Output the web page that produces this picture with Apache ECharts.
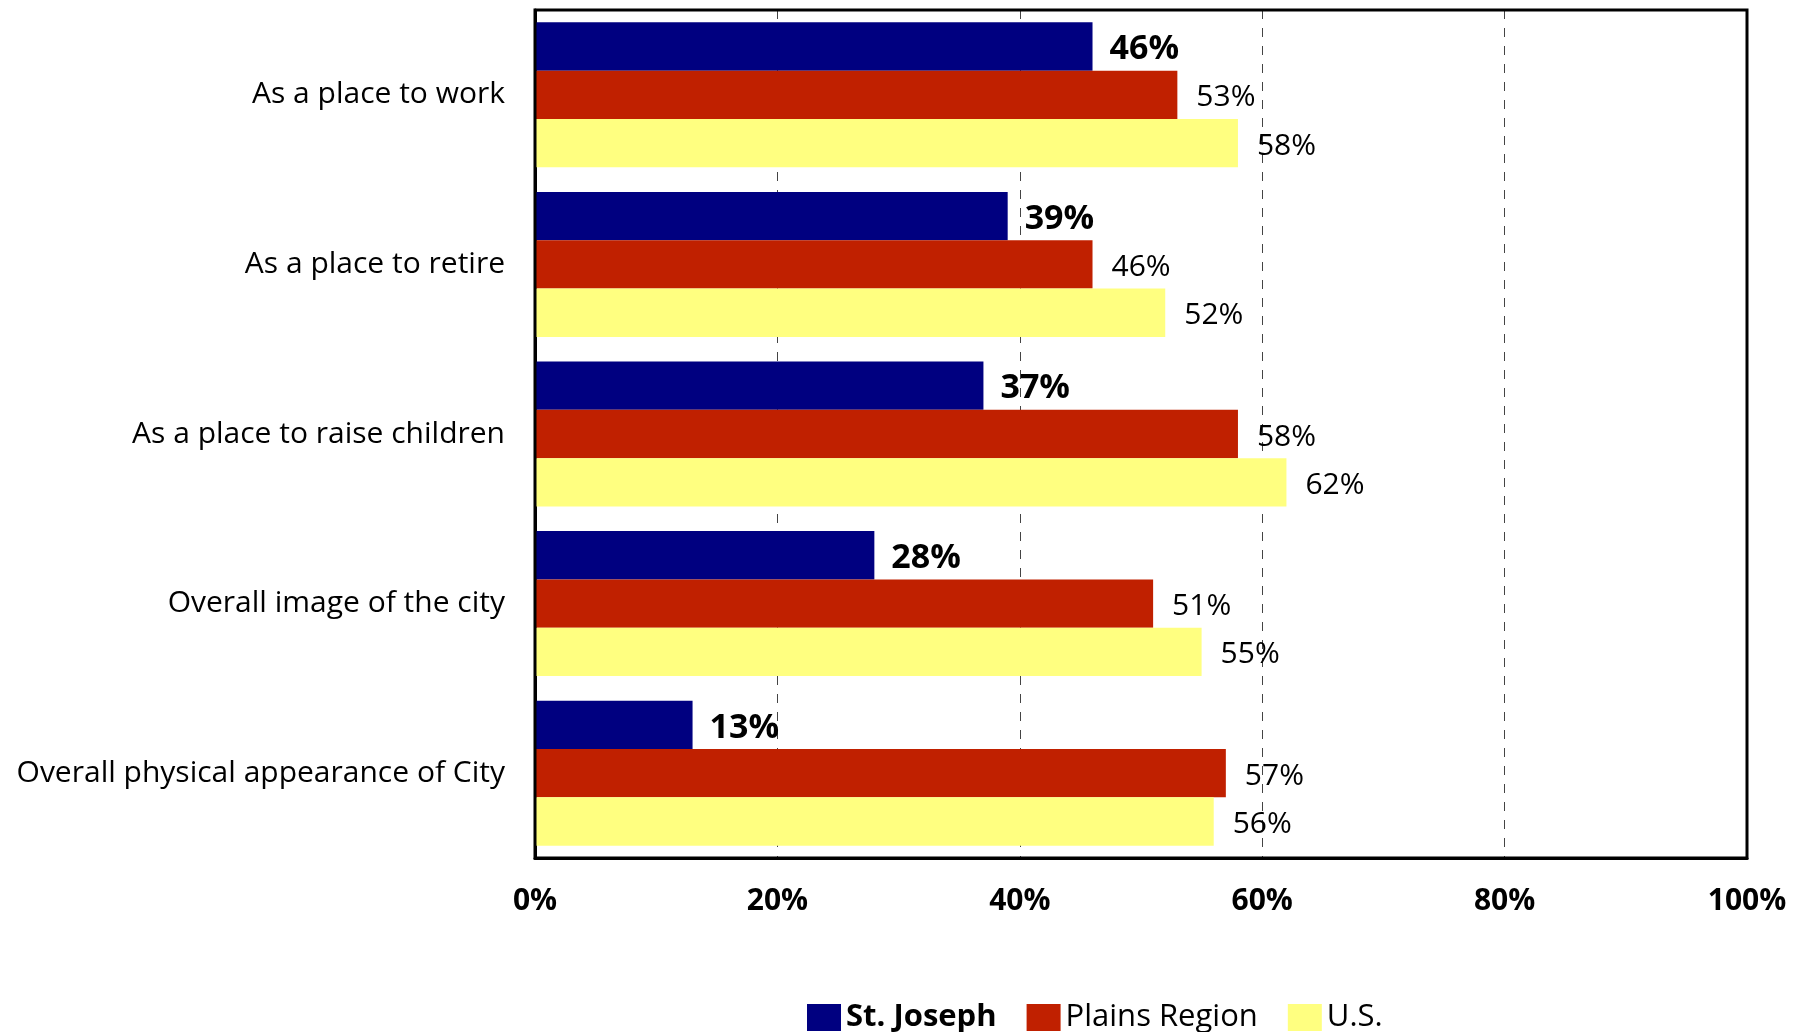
<!DOCTYPE html>
<html>
<head>
<meta charset="utf-8">
<script src="https://cdn.jsdelivr.net/npm/echarts@6/dist/echarts.min.js"></script>
<style>
  html, body { margin: 0; padding: 0; background: #fff; }
  #chart { width: 1805px; height: 1032px; }
</style>
</head>
<body>
<div id="chart"></div>
<script>
// Ratings of the community, share of respondents (%)
const categories = [
  'As a place to work',
  'As a place to retire',
  'As a place to raise children',
  'Overall image of the city',
  'Overall physical appearance of City'
];
const stJoseph = [46, 39, 37, 28, 13];
const plainsRegion = [53, 46, 58, 51, 57];
const us = [58, 52, 62, 55, 56];
const seriesNames = ['St. Joseph', 'Plains Region', 'U.S.'];
const xTicks = [0, 20, 40, 60, 80, 100];

const FONT = '"Open Sans", sans-serif';

function barSeries(name, values, color, bold) {
  return {
    name: name,
    type: 'bar',
    data: values,
    barGap: '0%',
    barCategoryGap: '14.5%',
    itemStyle: { color: color },
    label: {
      show: true,
      position: 'right',
      distance: bold ? 17 : 19,
      offset: [0, 3],
      formatter: '{c}%',
      color: '#000',
      fontFamily: FONT,
      fontSize: bold ? 34 : 30,
      fontWeight: bold ? 'bold' : 'normal'
    }
  };
}

const chart = echarts.init(document.getElementById('chart'));
chart.setOption({
  animation: false,
  backgroundColor: '#fff',
  grid: { left: 535, right: 58, top: 10, bottom: 174, containLabel: false },
  legend: {
    left: 802,
    top: 997,
    itemWidth: 34,
    itemHeight: 27,
    itemGap: 30,
    icon: 'rect',
    textStyle: {
      fontFamily: FONT,
      fontSize: 31,
      color: '#000',
      rich: {
        b: { fontFamily: FONT, fontSize: 31, fontWeight: 'bold', color: '#000' }
      }
    },
    formatter: function (n) {
      return n === 'St. Joseph' ? '{b|' + n + '}' : n;
    },
    data: seriesNames
  },
  xAxis: {
    type: 'value',
    min: 0,
    max: 100,
    interval: 20,
    axisLine: { show: true, lineStyle: { color: '#000', width: 3 } },
    axisTick: { show: false },
    axisLabel: {
      margin: 28,
      color: '#000',
      fontFamily: FONT,
      fontSize: 30,
      fontWeight: 'bold',
      formatter: function (v) { return xTicks.indexOf(v) >= 0 ? v + '%' : ''; }
    },
    splitLine: {
      show: true,
      lineStyle: { color: '#444', width: 1, type: [9, 9] }
    }
  },
  yAxis: {
    type: 'category',
    data: categories,
    inverse: true,
    axisLine: { show: true, lineStyle: { color: '#000', width: 3 } },
    axisTick: { show: false },
    axisLabel: {
      margin: 30,
      color: '#000',
      fontFamily: FONT,
      fontSize: 30,
      padding: [6, 0, 0, 0]
    }
  },
  series: [
    barSeries(seriesNames[0], stJoseph, '#000080', true),
    barSeries(seriesNames[1], plainsRegion, '#C02000', false),
    barSeries(seriesNames[2], us, '#FFFF80', false)
  ]
});

// full plot frame around the grid rectangle
const grid = chart.getModel().getComponent('grid').coordinateSystem.getRect();
chart.setOption({
  graphic: [{
    type: 'rect',
    shape: { x: grid.x, y: grid.y, width: grid.width, height: grid.height },
    style: { fill: 'none', stroke: '#000', lineWidth: 3 },
    silent: true,
    z: 10
  }]
});
</script>
</body>
</html>
